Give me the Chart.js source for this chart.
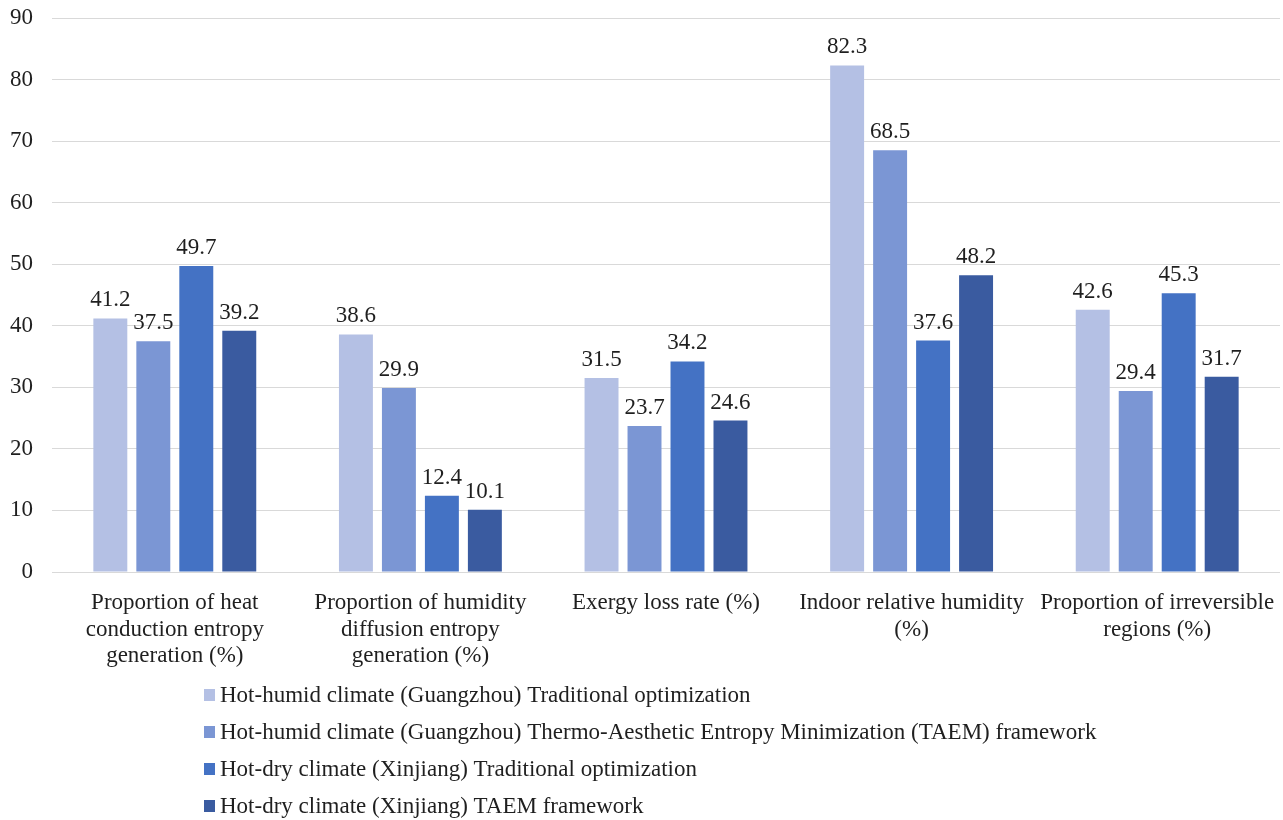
<!DOCTYPE html>
<html>
<head>
<meta charset="utf-8">
<script src="https://cdn.jsdelivr.net/npm/chart.js@4.4.1/dist/chart.umd.min.js"></script>
<style>
  html, body { margin: 0; padding: 0; background: #ffffff; }
  #wrap { width: 1283px; height: 820px; }
</style>
</head>
<body>
<div id="wrap"><canvas id="c" width="1283" height="820"></canvas></div>
<script>
// Metric groups along the x axis (multi-line labels)
const categories = [
  ["Proportion of heat", "conduction entropy", "generation (%)"],
  ["Proportion of humidity", "diffusion entropy", "generation (%)"],
  ["Exergy loss rate (%)"],
  ["Indoor relative humidity", "(%)"],
  ["Proportion of irreversible", "regions (%)"]
];

const seriesNames = [
  "Hot-humid climate (Guangzhou) Traditional optimization",
  "Hot-humid climate (Guangzhou) Thermo-Aesthetic Entropy Minimization (TAEM) framework",
  "Hot-dry climate (Xinjiang) Traditional optimization",
  "Hot-dry climate (Xinjiang) TAEM framework"
];

const humidTraditional = [41.2, 38.6, 31.5, 82.3, 42.6];
const humidTAEM        = [37.5, 29.9, 23.7, 68.5, 29.4];
const dryTraditional   = [49.7, 12.4, 34.2, 37.6, 45.3];
const dryTAEM          = [39.2, 10.1, 24.6, 48.2, 31.7];

const yTicks = [0, 10, 20, 30, 40, 50, 60, 70, 80, 90];

const colors = ["#b4c0e4", "#7b96d4", "#4472c4", "#3a5ba0"];
const FONT = "'Liberation Serif', 'Times New Roman', serif";
const FSIZE = 23;
const TEXT = "#1f1f1f";

const seriesValues = [humidTraditional, humidTAEM, dryTraditional, dryTAEM];

// Value labels above each bar
const valueLabels = {
  id: "valueLabels",
  afterDatasetsDraw(chart) {
    const ctx = chart.ctx;
    ctx.save();
    ctx.font = FSIZE + "px " + FONT;
    ctx.fillStyle = TEXT;
    ctx.textAlign = "center";
    ctx.textBaseline = "alphabetic";
    chart.data.datasets.forEach((ds, i) => {
      const meta = chart.getDatasetMeta(i);
      meta.data.forEach((bar, j) => {
        ctx.fillText(ds.data[j].toFixed(1), bar.x, bar.y - 12);
      });
    });
    ctx.restore();
  }
};

// Vertical legend, left aligned, under the axis labels
const stackedLegend = {
  id: "stackedLegend",
  afterDraw(chart) {
    const ctx = chart.ctx;
    const x0 = 204, y0 = 695, step = 37, box = 12;
    ctx.save();
    ctx.font = FSIZE + "px " + FONT;
    ctx.textAlign = "left";
    ctx.textBaseline = "middle";
    chart.data.datasets.forEach((ds, i) => {
      const y = y0 + i * step;
      ctx.fillStyle = ds.backgroundColor;
      ctx.fillRect(x0, y - box / 2, box - 1, box);
      ctx.fillStyle = TEXT;
      ctx.fillText(ds.label, x0 + 16, y + 1);
    });
    ctx.restore();
  }
};

new Chart(document.getElementById("c"), {
  type: "bar",
  data: {
    labels: categories,
    datasets: seriesNames.map((name, i) => ({
      label: name,
      data: seriesValues[i],
      backgroundColor: colors[i],
      borderWidth: 0,
      categoryPercentage: 0.7,
      barPercentage: 0.79
    }))
  },
  options: {
    responsive: false,
    animation: false,
    devicePixelRatio: 1,
    layout: { padding: { left: 0, right: 3, top: 18, bottom: 138 } },
    plugins: {
      legend: { display: false },
      tooltip: { enabled: false }
    },
    scales: {
      x: {
        grid: { display: false },
        border: { display: false },
        ticks: {
          color: TEXT,
          font: { family: FONT, size: FSIZE, lineHeight: 1.15 },
          padding: 10,
          maxRotation: 0,
          autoSkip: false
        },
        afterFit(scale) {
          scale.height = 110;
          scale.paddingLeft = 0;
          scale.paddingRight = 0;
        }
      },
      y: {
        min: 0,
        max: 90,
        afterBuildTicks(scale) { scale.ticks = yTicks.map(v => ({ value: v })); },
        grid: { color: "#d9d9d9", lineWidth: 1, drawTicks: false },
        border: { display: false },
        ticks: {
          color: TEXT,
          font: { family: FONT, size: FSIZE },
          padding: 19
        },
        afterFit(scale) {
          scale.width = 52;
          scale.paddingTop = 0;
          scale.paddingBottom = 0;
        }
      }
    }
  },
  plugins: [valueLabels, stackedLegend]
});
</script>
</body>
</html>
